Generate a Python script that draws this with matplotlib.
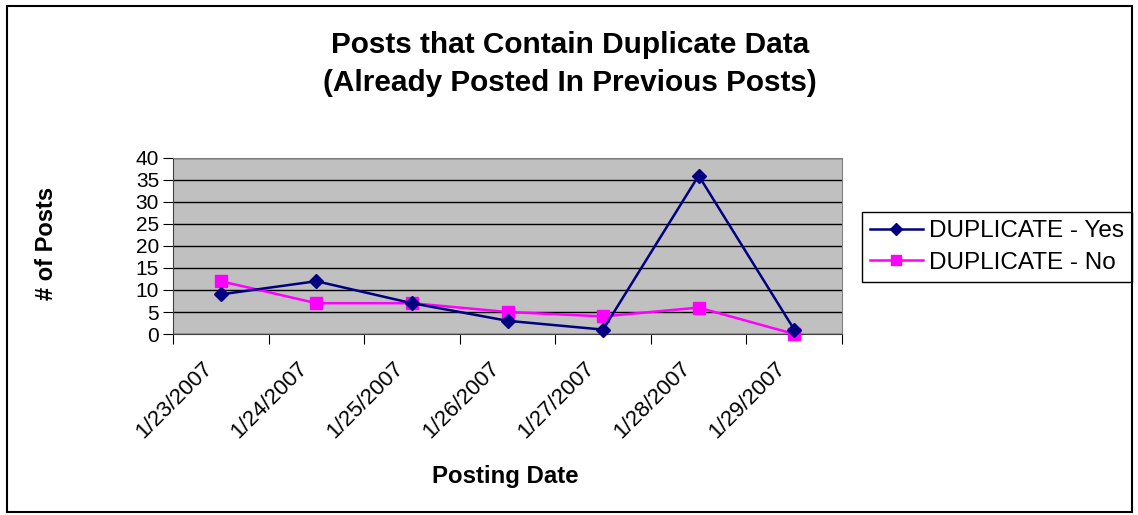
import matplotlib
matplotlib.use("Agg")
import matplotlib.pyplot as plt
from matplotlib.patches import Rectangle
from matplotlib.transforms import ScaledTranslation

dates = ["1/23/2007", "1/24/2007", "1/25/2007", "1/26/2007", "1/27/2007", "1/28/2007", "1/29/2007"]
dup_yes = [9, 12, 7, 3, 1, 36, 1]
dup_no = [12, 7, 7, 5, 4, 6, 0]
yticks = [0, 5, 10, 15, 20, 25, 30, 35, 40]

plt.rcParams['font.family'] = ['Liberation Sans', 'DejaVu Sans']

fig = plt.figure(figsize=(11.38, 5.15), dpi=100)
fig.patch.set_facecolor('white')
fig.patches.append(Rectangle((7/1138, 1 - 512/515), 1125/1138, 506/515, transform=fig.transFigure,
                             fill=False, edgecolor='black', linewidth=1.5))

ax = fig.add_axes([173/1138, 1 - 334/515, 669/1138, 176/515])
ax.set_facecolor('#c0c0c0')
x = list(range(len(dates)))
ax.plot(x, dup_yes, color='#000080', marker='D', markersize=7.5, linewidth=1.8, label='DUPLICATE - Yes', clip_on=False, zorder=4)
ax.plot(x, dup_no, color='#ff00ff', marker='s', markersize=8, linewidth=1.8, label='DUPLICATE - No', clip_on=False, zorder=3)
ax.set_xlim(-0.5, len(dates) - 0.5)
ax.set_ylim(0, 40)
ax.set_yticks(yticks)
ax.set_yticklabels([str(v) for v in yticks], fontsize=15)
ax.yaxis.grid(True, color='black', linewidth=1)
ax.set_axisbelow(True)
ax.tick_params(axis='y', length=7, direction='out', pad=3, colors='black')

ax.set_xticks([i - 0.5 for i in range(len(dates) + 1)])
ax.set_xticklabels([])
ax.tick_params(axis='x', length=7, direction='out')
ax.set_xticks(x, minor=True)
ax.set_xticklabels(dates, minor=True, rotation=45, ha='right', va='top', rotation_mode='anchor', fontsize=16)
ax.tick_params(axis='x', which='minor', length=0, pad=17)
off = ScaledTranslation(-19/100, 0, fig.dpi_scale_trans)
for lbl in ax.get_xticklabels(minor=True):
    lbl.set_transform(lbl.get_transform() + off)

for s in ['top', 'right']:
    ax.spines[s].set_color('#808080')
ax.spines['left'].set_color('#404040')
ax.spines['bottom'].set_color('#404040')

ax.set_ylabel('# of Posts', fontsize=17, fontweight='bold', labelpad=0)
ax.yaxis.set_label_coords(-(173 - 58) / 669, (334 - 243.5) / 176)
ax.set_xlabel('Posting Date', fontsize=17.3, fontweight='bold')
ax.xaxis.set_label_coords((505 - 173) / 669, -(476 - 334) / 176)
ax.xaxis.label.set_va('center')

fig.text(570/1138, 1 - 45/515, 'Posts that Contain Duplicate Data', ha='center', va='center', fontsize=21.4, fontweight='bold')
fig.text(570/1138, 1 - 83/515, '(Already Posted In Previous Posts)', ha='center', va='center', fontsize=21.4, fontweight='bold')

leg = ax.legend(loc='center left', bbox_to_anchor=(862/1138, 1 - 247/515), bbox_transform=fig.transFigure,
                fontsize=17.5, frameon=True, fancybox=False, edgecolor='black', framealpha=1,
                handlelength=2.17, borderpad=0.33, labelspacing=0.4, handletextpad=0.24, borderaxespad=0,
                markerscale=0.85)
leg.get_frame().set_linewidth(1)

fig.savefig('out.png', dpi=100)
